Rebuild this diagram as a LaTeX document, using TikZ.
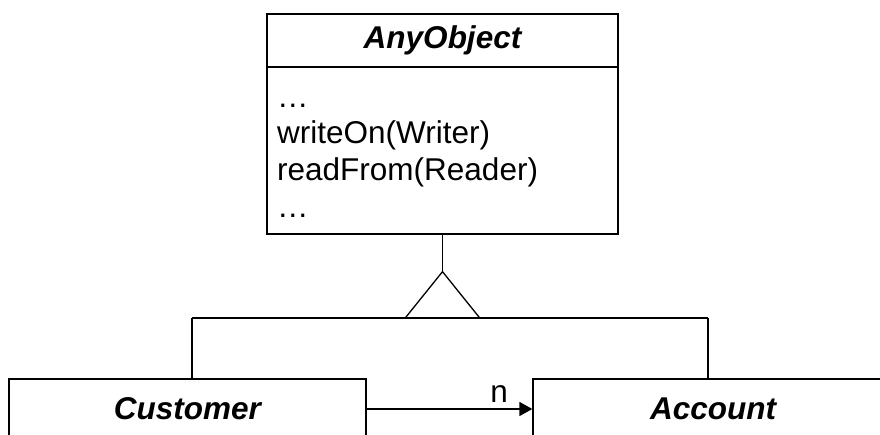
\documentclass[tikz,border=0pt]{standalone}
\usepackage{fontspec}
\setmainfont{Liberation Sans}
\usetikzlibrary{arrows.meta,positioning,calc}
\tikzset{
    classbox/.style={draw, rectangle, line width=1.3pt, inner sep=0pt, font=\fontsize{31.5}{36}\selectfont\bfseries\itshape},
    member/.style={inner sep=0pt, anchor=base west, font=\fontsize{31.5}{36}\selectfont},
    inherit/.style={line width=1.3pt},
    assoc/.style={-{Triangle[length=13pt, width=14pt]}, line width=1.3pt},
    mult/.style={inner sep=0pt, font=\fontsize{31.5}{36}\selectfont}
}

\begin{document}
\begin{tikzpicture}[x=1pt, y=-1pt]
\clip (0,0) rectangle (880,434);
\fill[white] (0,0) rectangle (880,434);
\node[classbox, minimum width=351pt, minimum height=53pt] (any) at (442.5,40.5) {AnyObject};
\node[classbox, minimum width=351pt, minimum height=167pt] (ops) at (442.5,150.5) {};
\foreach \txt [count=\i] in {…, {writeOn(Writer)}, {readFrom(Reader)}, …}
    \node[member] (m\i) at (277, 70.3+36.7*\i) {\txt};
\node[classbox, minimum width=357pt, minimum height=60pt] (cust) at (187.5,409) {Customer};
\node[classbox, minimum width=360pt, minimum height=60pt] (acct) at (713,409) {Account};
\coordinate (apex) at ([yshift=-37pt]ops.south);
\coordinate (busl) at (192,318);
\coordinate (busr) at (708,318);
\draw[inherit] (ops.south) -- (apex);
\draw[inherit] (apex) -- ++(-37,46) -- ++(74,0) -- cycle;
\draw[inherit] (busl) -- (busr);
\draw[inherit] (busl) -- (busl |- cust.north);
\draw[inherit] (busr) -- (busr |- acct.north);
\draw[assoc] (cust) -- node[mult, pos=0.8, above=6pt] {n} (acct);
\end{tikzpicture}
\end{document}
